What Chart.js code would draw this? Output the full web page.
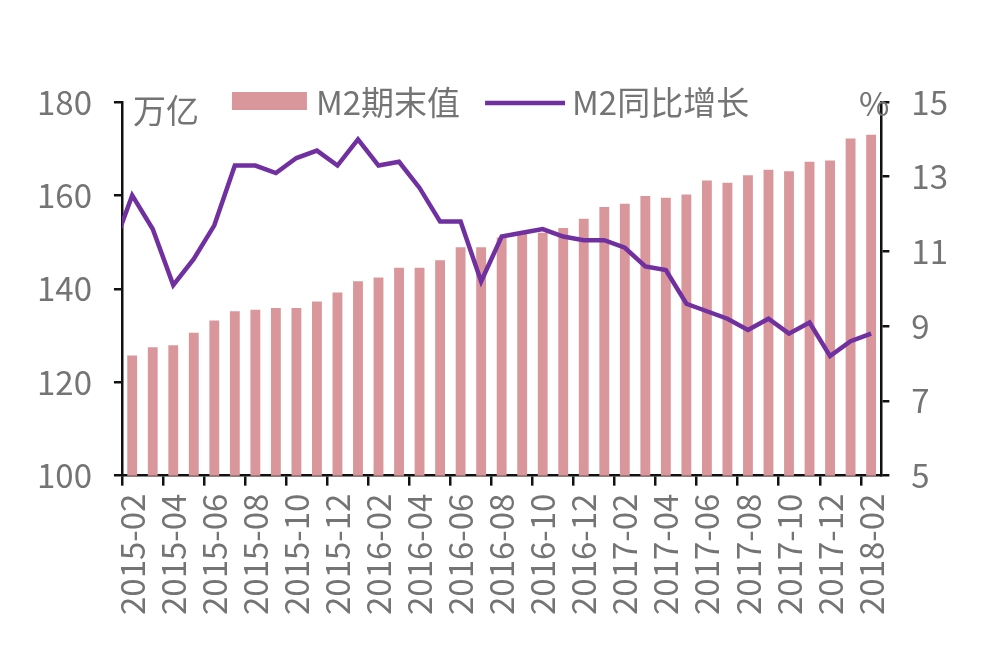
<!DOCTYPE html>
<html>
<head>
<meta charset="utf-8">
<script src="https://cdn.jsdelivr.net/npm/chart.js@4/dist/chart.umd.min.js"></script>
<style>
    html, body { margin: 0; padding: 0; background: #fff; }
    #wrap { width: 986px; height: 670px; }
</style>
</head>
<body>
<div id="wrap"><canvas id="chartM2" width="986" height="670"></canvas></div>
<script>
// Bulan (2015-01 hanya untuk ujung garis yang terpotong di kiri)
const months = [
    '2015-01', '2015-02', '2015-03', '2015-04', '2015-05', '2015-06', '2015-07', '2015-08',
    '2015-09', '2015-10', '2015-11', '2015-12', '2016-01', '2016-02', '2016-03', '2016-04',
    '2016-05', '2016-06', '2016-07', '2016-08', '2016-09', '2016-10', '2016-11', '2016-12',
    '2017-01', '2017-02', '2017-03', '2017-04', '2017-05', '2017-06', '2017-07', '2017-08',
    '2017-09', '2017-10', '2017-11', '2017-12', '2018-01', '2018-02'
];
// M2期末值 (万亿)
const m2Stock = [
    null, 125.7, 127.5, 127.9, 130.6, 133.2, 135.2, 135.5,
    135.9, 135.9, 137.3, 139.2, 141.6, 142.4, 144.5, 144.5,
    146.1, 148.9, 148.9, 151.0, 151.8, 152.0, 153.0, 155.0,
    157.5, 158.2, 159.9, 159.5, 160.2, 163.2, 162.7, 164.3,
    165.5, 165.2, 167.2, 167.5, 172.2, 173.0
];
// M2同比增长 (%)
const m2Yoy = [
    11.0, 12.5, 11.6, 10.1, 10.8, 11.7, 13.3, 13.3,
    13.1, 13.5, 13.7, 13.3, 14.0, 13.3, 13.4, 12.7,
    11.8, 11.8, 10.2, 11.4, 11.5, 11.6, 11.4, 11.3,
    11.3, 11.1, 10.6, 10.5, 9.6, 9.4, 9.2, 8.9,
    9.2, 8.8, 9.1, 8.2, 8.6, 8.8
];
const leftTicks = [100, 120, 140, 160, 180];
const rightTicks = [5, 7, 9, 11, 13, 15];

const barColor = '#d9979b';
const lineColor = '#7030a0';
const textColor = '#747474';
const fontFamily = '"Noto Sans CJK SC", "Noto Sans", sans-serif';

// Legenda dan satuan digambar manual (menempel di atas area chart)
const legendPlugin = {
    id: 'topLegend',
    afterDraw(chart) {
        const { ctx, chartArea } = chart;
        const cy = chartArea.top;
        ctx.save();
        ctx.font = '33px ' + fontFamily;
        ctx.fillStyle = textColor;
        ctx.textBaseline = 'middle';

        // 万亿 & %
        ctx.textAlign = 'left';
        ctx.fillText('万亿', chartArea.left + 11, cy + 8);
        ctx.textAlign = 'right';
        ctx.fillText('%', chartArea.right + 8, cy + 1);

        ctx.textAlign = 'left';
        let x = chartArea.left + 110;
        ctx.fillStyle = barColor;
        ctx.fillRect(x, cy - 10, 75, 18);
        x += 84;
        ctx.fillStyle = textColor;
        ctx.fillText('M2期末值', x, cy);
        x += ctx.measureText('M2期末值').width + 25;

        ctx.strokeStyle = lineColor;
        ctx.lineWidth = 4.5;
        ctx.beginPath();
        ctx.moveTo(x, cy + 1);
        ctx.lineTo(x + 80, cy + 1);
        ctx.stroke();
        x += 87;
        ctx.fillText('M2同比增长', x, cy);
        ctx.restore();
    }
};

function initM2Chart() {
    new Chart(document.getElementById('chartM2'), {
        type: 'bar',
        data: {
            labels: months,
            datasets: [{
                type: 'line',
                label: 'M2同比增长',
                data: m2Yoy,
                yAxisID: 'y1',
                borderColor: lineColor,
                borderWidth: 4.5,
                pointRadius: 0,
                tension: 0,
                clip: 0,
                order: 0
            }, {
                label: 'M2期末值',
                data: m2Stock,
                yAxisID: 'y',
                backgroundColor: barColor,
                barPercentage: 0.48,
                categoryPercentage: 1,
                order: 1
            }]
        },
        options: {
            responsive: false,
            animation: false,
            layout: { padding: { left: 15, right: 16, top: 102, bottom: 47 } },
            plugins: {
                legend: { display: false },
                tooltip: { enabled: false }
            },
            scales: {
                x: {
                    min: '2015-02',
                    offset: true,
                    grid: {
                        offset: true,
                        drawOnChartArea: false,
                        tickLength: 10,
                        lineWidth: 2.5,
                        tickColor: (c) => (c.index % 2 === 0 ? '#111' : 'rgba(0,0,0,0)')
                    },
                    border: { display: true, color: '#111', width: 2.5 },
                    ticks: {
                        autoSkip: false,
                        minRotation: 90,
                        maxRotation: 90,
                        padding: 8,
                        color: textColor,
                        font: { family: fontFamily, size: 33 },
                        callback: function (val, index) {
                            return index % 2 === 0 ? this.getLabelForValue(val) : '';
                        }
                    }
                },
                y: {
                    position: 'left',
                    min: leftTicks[0],
                    max: leftTicks[leftTicks.length - 1],
                    afterBuildTicks: (s) => { s.ticks = leftTicks.map(v => ({ value: v })); },
                    grid: { drawOnChartArea: false, tickLength: 8, lineWidth: 2.5, tickColor: '#111' },
                    border: { display: true, color: '#111', width: 2.5 },
                    ticks: { padding: 22, color: textColor, font: { family: fontFamily, size: 33 } }
                },
                y1: {
                    position: 'right',
                    min: rightTicks[0],
                    max: rightTicks[rightTicks.length - 1],
                    afterBuildTicks: (s) => { s.ticks = rightTicks.map(v => ({ value: v })); },
                    grid: { drawOnChartArea: false, tickLength: 8, lineWidth: 2.5, tickColor: '#111' },
                    border: { display: true, color: '#111', width: 2.5 },
                    ticks: { padding: 22, color: textColor, font: { family: fontFamily, size: 33 } }
                }
            }
        },
        plugins: [legendPlugin]
    });
}

initM2Chart();
</script>
</body>
</html>
